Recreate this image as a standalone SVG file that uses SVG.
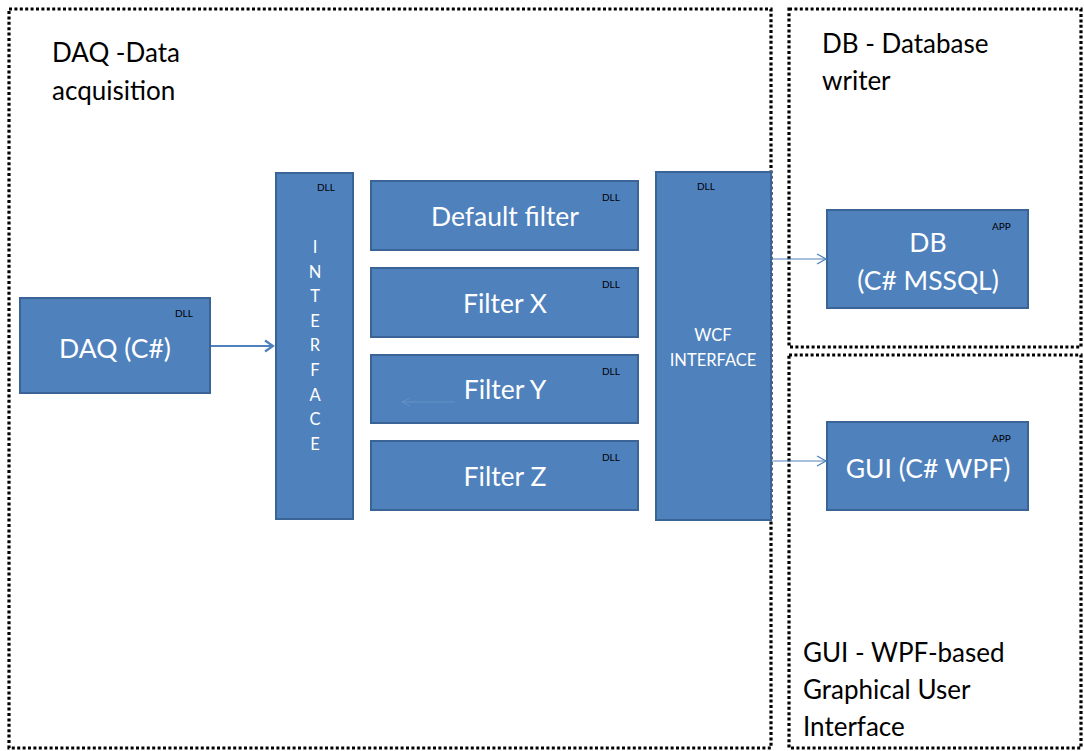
<svg xmlns="http://www.w3.org/2000/svg" width="1084" height="751" viewBox="0 0 1084 751">
<style>
.grp{fill:none;stroke:#000;stroke-width:3.2;stroke-dasharray:3 2.4}
.node{fill:#4F81BD;stroke:#3A6496;stroke-width:2}
.t{font-family:Lato,"Liberation Sans",sans-serif;fill:#fff}
.big{font-size:26.5px}
.mid{font-size:16.5px}
.tag{font-family:Lato,"Liberation Sans",sans-serif;font-size:10px;fill:#000}
.title{font-family:Lato,"Liberation Sans",sans-serif;font-size:26px;fill:#000}
.conn{stroke:#4F81BD;fill:none}
</style>
<defs>
<marker id="ah" markerWidth="12" markerHeight="12" refX="10" refY="6" orient="auto" markerUnits="userSpaceOnUse">
<path d="M1,1 L10,6 L1,11" fill="none" stroke="#4F81BD" stroke-width="1.3"/>
</marker>
<marker id="ah2" markerWidth="12" markerHeight="14" refX="10" refY="7" orient="auto" markerUnits="userSpaceOnUse">
<path d="M2,1.5 L10,7 L2,12.5" fill="none" stroke="#4F81BD" stroke-width="2.2"/>
</marker>
</defs>
<rect width="1084" height="751" fill="#fff"/>
<g id="group-daq">
<rect class="grp" x="9" y="9" width="762" height="739"/>
<text class="title" x="52" y="62">DAQ -Data</text>
<text class="title" x="52" y="100">acquisition</text>
</g>
<g id="group-db">
<rect class="grp" x="789" y="9" width="292" height="338"/>
<text class="title" x="822" y="53">DB - Database</text>
<text class="title" x="822" y="90">writer</text>
</g>
<g id="group-gui">
<rect class="grp" x="789" y="355" width="292" height="393"/>
<text class="title" x="803" y="662">GUI - WPF-based</text>
<text class="title" x="803" y="699">Graphical User</text>
<text class="title" x="803" y="736">Interface</text>
</g>
<g id="daq">
<rect class="node" x="20" y="298" width="190" height="95"/>
<text class="tag" x="175" y="317">DLL</text>
<text class="t big" x="115" y="358" text-anchor="middle">DAQ (C#)</text>
</g>
<g id="interface">
<rect class="node" x="276" y="173" width="77" height="346"/>
<text class="tag" x="317" y="191">DLL</text>
<g class="t mid" text-anchor="middle">
<text x="315" y="253">I</text>
<text x="315" y="278">N</text>
<text x="315" y="302">T</text>
<text x="315" y="327">E</text>
<text x="315" y="351">R</text>
<text x="315" y="376">F</text>
<text x="315" y="401">A</text>
<text x="315" y="425">C</text>
<text x="315" y="450">E</text>
</g>
</g>
<g id="default-filter">
<rect class="node" x="371" y="181" width="267" height="69"/>
<text class="tag" x="602" y="201">DLL</text>
<text class="t big" x="505" y="226" text-anchor="middle">Default filter</text>
</g>
<g id="filter-x">
<rect class="node" x="371" y="268" width="267" height="69"/>
<text class="tag" x="602" y="288">DLL</text>
<text class="t big" x="505" y="313" text-anchor="middle">Filter X</text>
</g>
<g id="filter-y">
<rect class="node" x="371" y="355" width="267" height="68"/>
<text class="tag" x="602" y="375">DLL</text>
<text class="t big" x="505" y="399" text-anchor="middle">Filter Y</text>
</g>
<g id="filter-z">
<rect class="node" x="371" y="441" width="267" height="69"/>
<text class="tag" x="602" y="461">DLL</text>
<text class="t big" x="505" y="486" text-anchor="middle">Filter Z</text>
</g>
<g id="wcf">
<rect class="node" x="656" y="172" width="115" height="348"/>
<text class="tag" x="697" y="190">DLL</text>
<text class="t mid" x="713" y="341" text-anchor="middle">WCF</text>
<text class="t mid" x="713" y="366" text-anchor="middle">INTERFACE</text>
</g>
<g id="db">
<rect class="node" x="827" y="210" width="201" height="98"/>
<text class="tag" x="992" y="230">APP</text>
<text class="t big" x="928" y="252" text-anchor="middle">DB</text>
<text class="t big" x="928" y="290" text-anchor="middle">(C# MSSQL)</text>
</g>
<g id="gui">
<rect class="node" x="827" y="422" width="201" height="88"/>
<text class="tag" x="992" y="442">APP</text>
<text class="t big" x="928" y="478" text-anchor="middle">GUI (C# WPF)</text>
</g>
<g id="connectors">
<line class="conn" x1="211" y1="346" x2="273" y2="346" stroke-width="2.2" marker-end="url(#ah2)"/>
<line class="conn" x1="772" y1="259" x2="826" y2="259" stroke-width="1.2" marker-end="url(#ah)"/>
<line class="conn" x1="772" y1="461" x2="826" y2="461" stroke-width="1.2" marker-end="url(#ah)"/>
<g opacity="0.35">
<line x1="455" y1="402" x2="402" y2="402" stroke="#8FB0D8" stroke-width="1"/>
<path d="M410,398 L402,402 L410,406" fill="none" stroke="#8FB0D8" stroke-width="1"/>
</g>
</g>
</svg>
